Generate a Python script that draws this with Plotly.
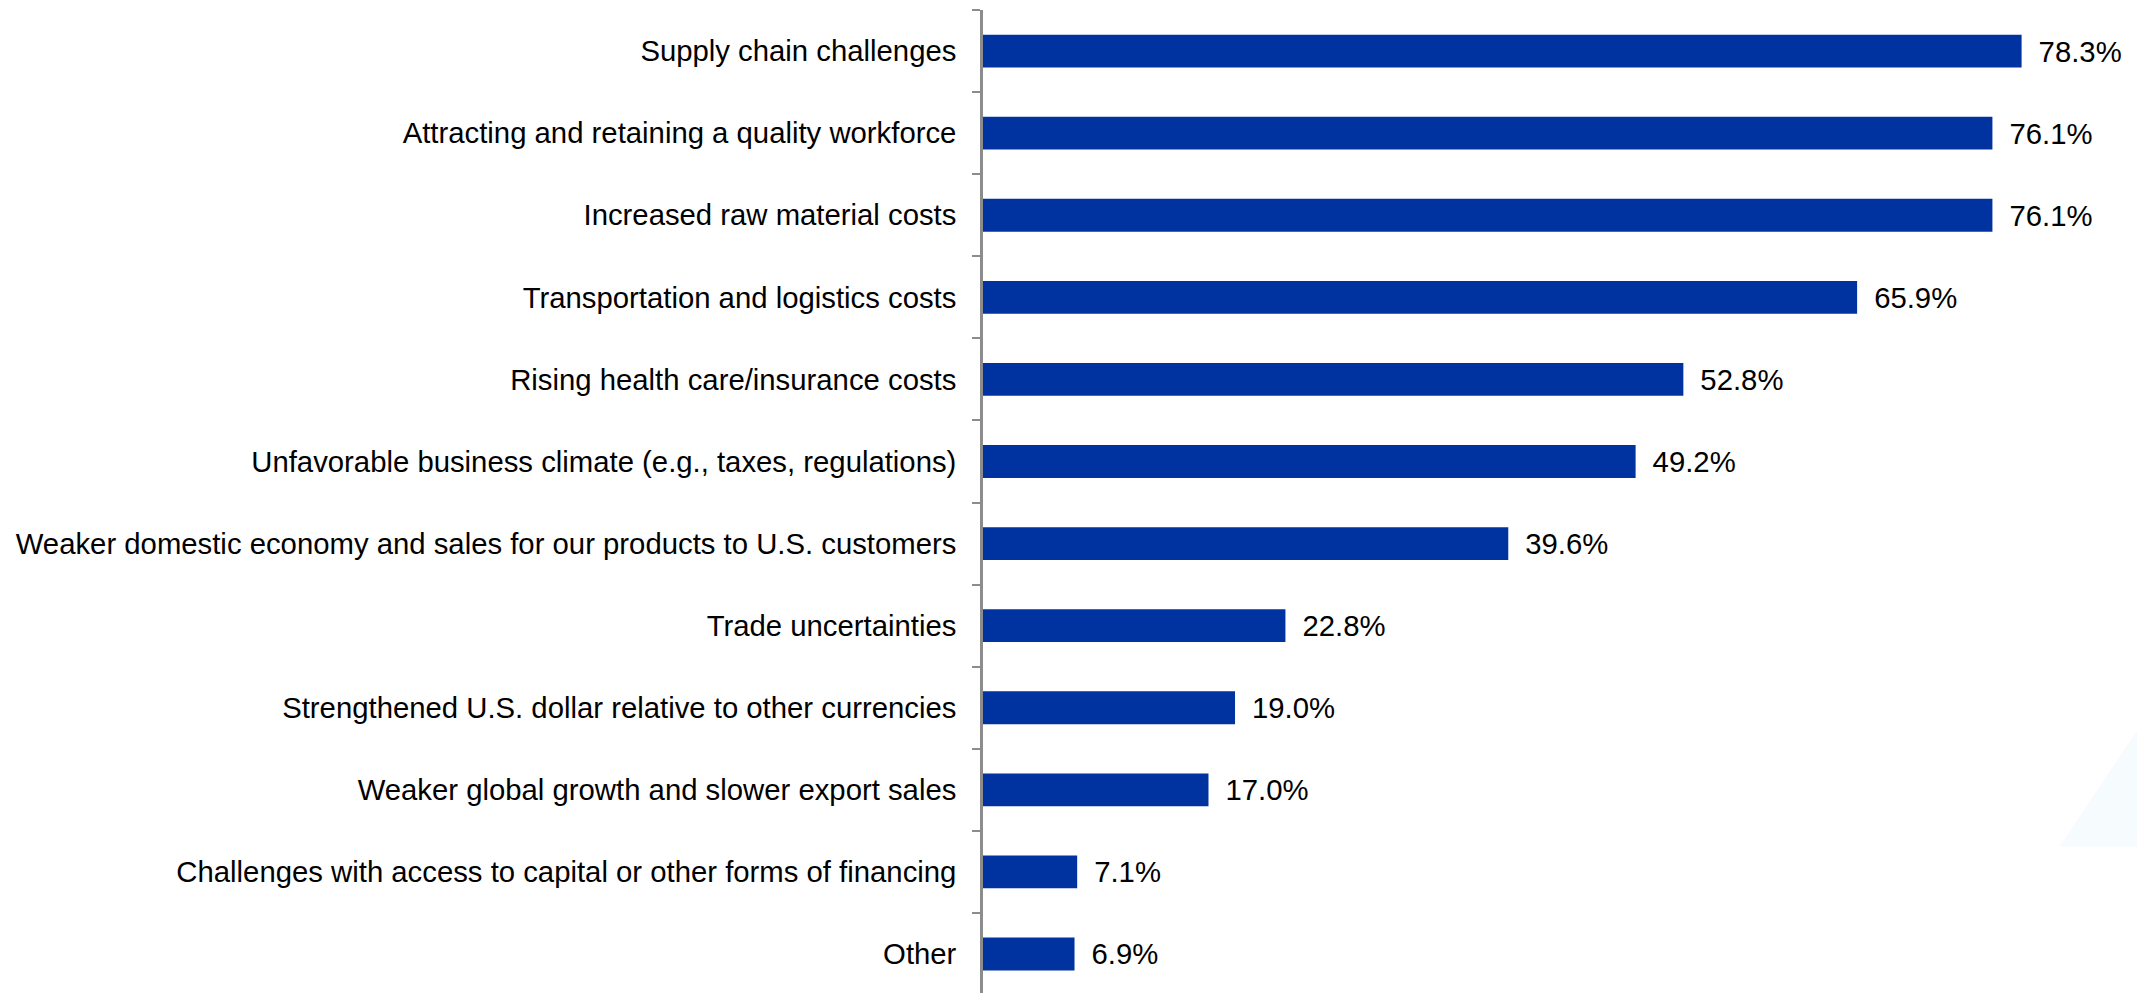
import plotly.graph_objects as go

categories = [
    "Supply chain challenges",
    "Attracting and retaining a quality workforce",
    "Increased raw material costs",
    "Transportation and logistics costs",
    "Rising health care/insurance costs",
    "Unfavorable business climate (e.g., taxes, regulations)",
    "Weaker domestic economy and sales for our products to U.S. customers",
    "Trade uncertainties",
    "Strengthened U.S. dollar relative to other currencies",
    "Weaker global growth and slower export sales",
    "Challenges with access to capital or other forms of financing",
    "Other",
]
values = [78.3, 76.1, 76.1, 65.9, 52.8, 49.2, 39.6, 22.8, 19.0, 17.0, 7.1, 6.9]

W, H = 2145, 993
ML, MT, MB = 983, 10, 0
px_per_unit = 13.27
xmax = 87.0
plot_w = xmax * px_per_unit
MR = W - ML - plot_w
FS = 29.3

fig = go.Figure()
fig.add_trace(go.Bar(
    y=categories,
    x=values,
    orientation="h",
    marker=dict(color="#0033A0", line=dict(width=0)),
    text=[f"\u00a0\u2009{v:.1f}%" for v in values],
    textposition="outside",
    textfont=dict(family="Liberation Sans, Arial, sans-serif", size=FS, color="#000000"),
    constraintext="none",
    cliponaxis=False,
    hoverinfo="skip",
))

fig.update_layout(
    width=W, height=H,
    margin=dict(l=ML, r=MR, t=MT, b=MB, pad=0),
    paper_bgcolor="white",
    plot_bgcolor="rgba(0,0,0,0)",
    bargap=0.6,
    showlegend=False,
    font=dict(family="Liberation Sans, Arial, sans-serif", size=FS, color="#000000"),
    shapes=[
        dict(type="path", xref="x domain", yref="y domain",
             path="M 0.933 0.149 L 1.0 0.267 L 1.0 0.149 Z",
             fillcolor="#F6FBFE", line=dict(width=0), layer="below"),
    ],
)
fig.update_xaxes(
    range=[0, xmax], visible=False, showgrid=False, zeroline=False,
)
fig.update_yaxes(
    type="category",
    categoryorder="array", categoryarray=categories,
    range=[11.5 - 2/82.0, -0.5],
    showline=True, linecolor="#8C8C8C", linewidth=2.5,
    ticks="outside", ticklen=8, tickwidth=2, tickcolor="#8C8C8C",
    tickson="boundaries",
    ticklabelstandoff=18,
    showgrid=False, zeroline=False,
    tickfont=dict(family="Liberation Sans, Arial, sans-serif", size=FS, color="#000000"),
)

fig.write_html("out.html")
